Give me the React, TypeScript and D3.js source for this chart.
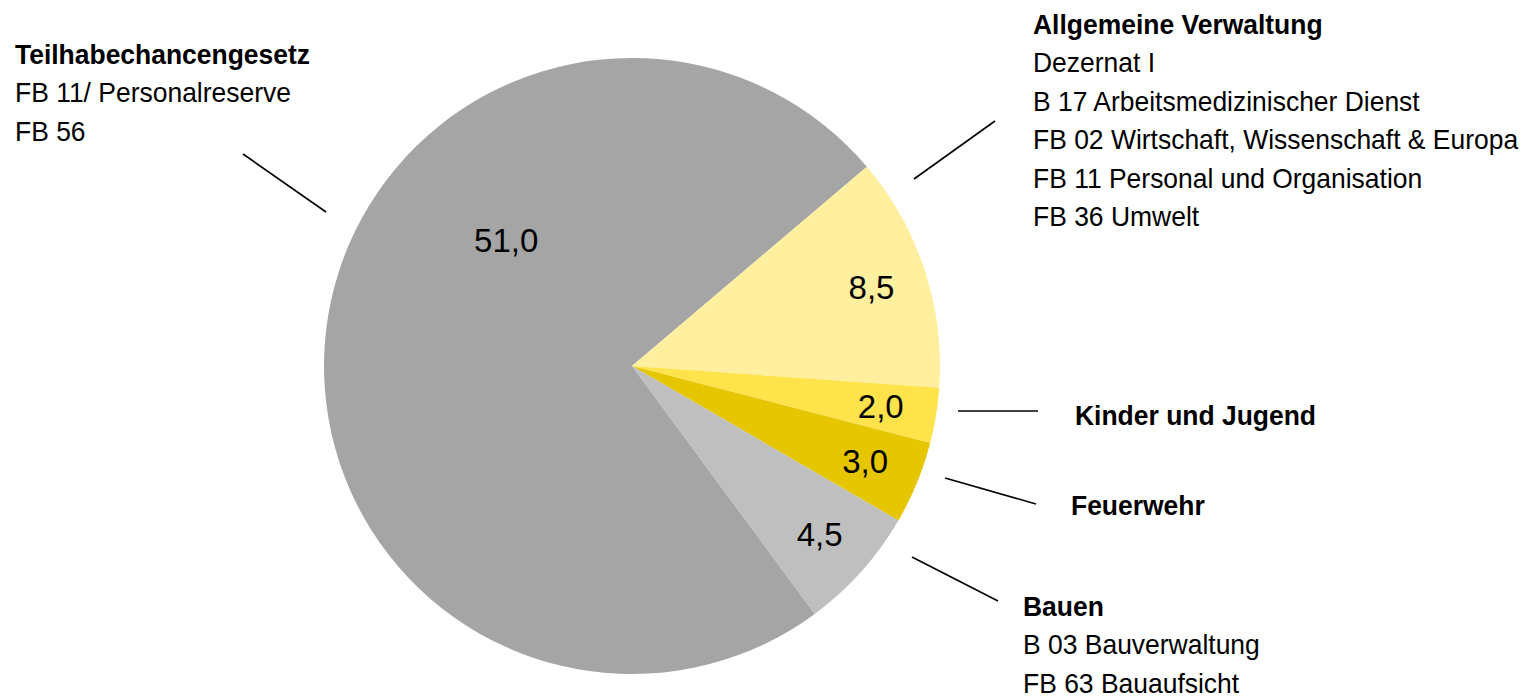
import React from "react";
import * as d3 from "d3";

const categories = ["Teilhabechancengesetz", "Allgemeine Verwaltung", "Kinder und Jugend", "Feuerwehr", "Bauen"];
const values = [51.0, 8.5, 2.0, 3.0, 4.5];
const colors = ["#A5A5A5", "#FFEF9E", "#FFE34B", "#E5C600", "#BFBFBF"];
const subLines: string[][] = [
  ["FB 11/ Personalreserve", "FB 56"],
  ["Dezernat I", "B 17 Arbeitsmedizinischer Dienst", "FB 02 Wirtschaft, Wissenschaft & Europa", "FB 11 Personal und Organisation", "FB 36 Umwelt"],
  [],
  [],
  ["B 03 Bauverwaltung", "FB 63 Bauaufsicht"],
];

// layout (positions of annotation blocks)
const labelBlocks = [
  { x: 15, y: 64, line: [243, 154, 326, 212] },
  { x: 1033, y: 34, line: [995, 121, 914, 179] },
  { x: 1075, y: 425, line: [958, 411, 1038, 411] },
  { x: 1071, y: 515, line: [945, 478, 1036, 504] },
  { x: 1023, y: 616, line: [912, 557, 998, 601] },
];

const W = 1523, H = 698;
const cx = 632, cy = 366, R = 308;
const deg = Math.PI / 180;
const start = 143.6 * deg;
const FONT = "Liberation Sans, Arial, sans-serif";
const SX = 0.945;

export default function App() {
  const pie = d3.pie<number>().sort(null).startAngle(start).endAngle(start + 2 * Math.PI);
  const arcs = pie(values);
  const arc = d3.arc<d3.PieArcDatum<number>>().innerRadius(0).outerRadius(R);
  const fmt = (v: number) => v.toFixed(1).replace(".", ",");
  const labelPos = (a: d3.PieArcDatum<number>, i: number): [number, number] => {
    if (i === 0) {
      const ang = 315 * deg, r = 178;
      return [r * Math.sin(ang), -r * Math.cos(ang)];
    }
    const r = 252;
    const ang = (a.startAngle + a.endAngle) / 2;
    return [r * Math.sin(ang), -r * Math.cos(ang)];
  };
  const lh = 38.4;
  return (
    <svg width={W} height={H} style={{ position: "absolute", left: 0, top: 0, background: "#fff" }}>
      <g transform={`translate(${cx},${cy})`}>
        {arcs.map((a, i) => (
          <path key={i} d={arc(a) || ""} fill={colors[i]} />
        ))}
        {arcs.map((a, i) => {
          const [x, y] = labelPos(a, i);
          return (
            <text key={"v" + i} x={x} y={y} dy="0.36em" textAnchor="middle"
              fontFamily={FONT} fontSize={33} fill="#000">
              {fmt(values[i])}
            </text>
          );
        })}
      </g>
      {categories.map((c, i) => {
        const b = labelBlocks[i];
        const [x1, y1, x2, y2] = b.line;
        return (
          <g key={"l" + i}>
            <line x1={x1} y1={y1} x2={x2} y2={y2} stroke="#000" strokeWidth={1.6} />
            <text transform={`translate(${b.x},${b.y}) scale(${SX},1)`} fontFamily={FONT}
              fontSize={28} fontWeight="bold" fill="#000">{c}</text>
            {subLines[i].map((s, j) => (
              <text key={j} transform={`translate(${b.x},${b.y + lh * (j + 1)}) scale(${SX},1)`}
                fontFamily={FONT} fontSize={28} fill="#000">{s}</text>
            ))}
          </g>
        );
      })}
    </svg>
  );
}
